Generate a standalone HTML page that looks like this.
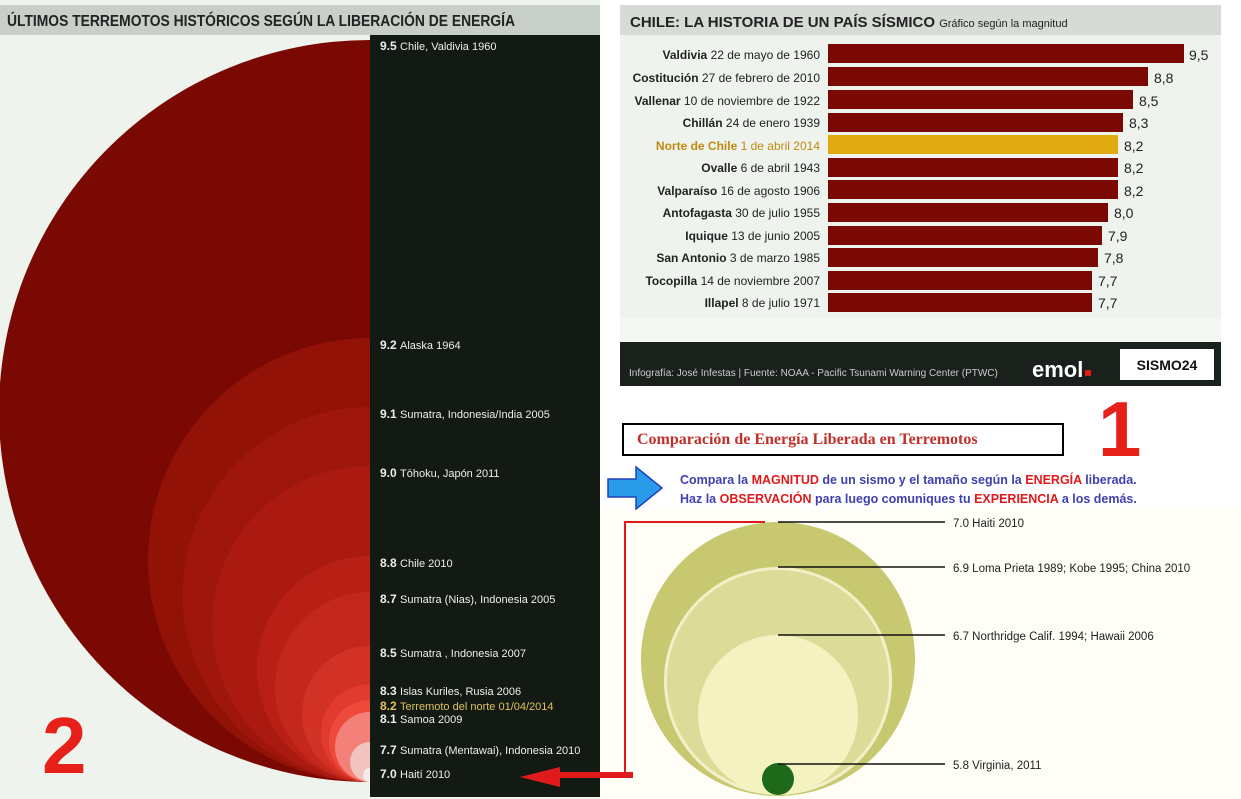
<!DOCTYPE html>
<html><head><meta charset="utf-8"><style>
body{margin:0;width:1241px;height:799px;background:#fff;overflow:hidden;font-family:"Liberation Sans",Arial,sans-serif;position:relative}
.a{position:absolute}
</style></head><body>
<svg class="a" style="left:0;top:0" width="1241" height="799">
<defs><clipPath id="lc"><rect x="0" y="35" width="370" height="764"/></clipPath></defs>
<rect x="0" y="0" width="600" height="799" fill="#eef3ee"/>
<rect x="0" y="5" width="600" height="30" fill="#c8cec8"/>
<text x="7" y="26" font-size="16" font-weight="bold" fill="#222" textLength="508" lengthAdjust="spacingAndGlyphs">ÚLTIMOS TERREMOTOS HISTÓRICOS SEGÚN LA LIBERACIÓN DE ENERGÍA</text>
<g clip-path="url(#lc)">
<circle cx="370" cy="411" r="371" fill="#7a0903"/>
<circle cx="370" cy="560" r="222" fill="#921208"/>
<circle cx="370" cy="594.5" r="187.5" fill="#9e160c"/>
<circle cx="370" cy="624" r="158" fill="#aa1a10"/>
<circle cx="370" cy="669" r="113" fill="#b82016"/>
<circle cx="370" cy="687" r="95" fill="#c4281d"/>
<circle cx="370" cy="714" r="68" fill="#d23226"/>
<circle cx="370" cy="733" r="49" fill="#e03b2e"/>
<circle cx="370" cy="741" r="41" fill="#ee4a3c"/>
<circle cx="370" cy="747" r="35" fill="#f4807a"/>
<circle cx="370" cy="762" r="20" fill="#f2c4c0"/>
<circle cx="370" cy="775" r="7" fill="#f6eaea"/>
</g>
<rect x="370" y="35" width="230" height="762" fill="#121a13"/>
<g font-size="12" fill="#eee">
<text x="380" y="50"><tspan font-weight="bold">9.5</tspan> <tspan font-size="11">Chile, Valdivia 1960</tspan></text>
<text x="380" y="349"><tspan font-weight="bold">9.2</tspan> <tspan font-size="11">Alaska 1964</tspan></text>
<text x="380" y="418"><tspan font-weight="bold">9.1</tspan> <tspan font-size="11">Sumatra, Indonesia/India 2005</tspan></text>
<text x="380" y="477"><tspan font-weight="bold">9.0</tspan> <tspan font-size="11">Tōhoku, Japón 2011</tspan></text>
<text x="380" y="567"><tspan font-weight="bold">8.8</tspan> <tspan font-size="11">Chile 2010</tspan></text>
<text x="380" y="603"><tspan font-weight="bold">8.7</tspan> <tspan font-size="11">Sumatra (Nias), Indonesia 2005</tspan></text>
<text x="380" y="657"><tspan font-weight="bold">8.5</tspan> <tspan font-size="11">Sumatra , Indonesia 2007</tspan></text>
<text x="380" y="695"><tspan font-weight="bold">8.3</tspan> <tspan font-size="11">Islas Kuriles, Rusia 2006</tspan></text>
<text x="380" y="710" fill="#e0c060"><tspan font-weight="bold">8.2</tspan> <tspan font-size="11">Terremoto del norte 01/04/2014</tspan></text>
<text x="380" y="723"><tspan font-weight="bold">8.1</tspan> <tspan font-size="11">Samoa 2009</tspan></text>
<text x="380" y="754"><tspan font-weight="bold">7.7</tspan> <tspan font-size="11">Sumatra (Mentawai), Indonesia 2010</tspan></text>
<text x="380" y="778"><tspan font-weight="bold">7.0</tspan> <tspan font-size="11">Haití 2010</tspan></text>
</g>
<text x="42" y="773" font-size="80" font-weight="bold" fill="#e8201a">2</text>

<rect x="620" y="5" width="601" height="337" fill="#eef3ee"/>
<rect x="620" y="5" width="601" height="30" fill="#d6dbd6"/>
<text x="630" y="27" font-size="15" font-weight="bold" fill="#222">CHILE: LA HISTORIA DE UN PAÍS SÍSMICO <tspan font-size="11" font-weight="normal">Gráfico según la magnitud</tspan></text>
<g font-size="12" fill="#222">
<g fill="#7a0903">
<rect x="828" y="44" width="356" height="19"/><rect x="828" y="67" width="320" height="19"/><rect x="828" y="90" width="305" height="19"/><rect x="828" y="113" width="295" height="19"/>
<rect x="828" y="135" width="290" height="19" fill="#e0aa10"/><rect x="828" y="158" width="290" height="19"/><rect x="828" y="180" width="290" height="19"/><rect x="828" y="203" width="280" height="19"/>
<rect x="828" y="226" width="274" height="19"/><rect x="828" y="248" width="270" height="19"/><rect x="828" y="271" width="264" height="19"/><rect x="828" y="293" width="264" height="19"/>
</g>
<g text-anchor="end">
<text x="820" y="59"><tspan font-weight="bold">Valdivia</tspan> 22 de mayo de 1960</text>
<text x="820" y="82"><tspan font-weight="bold">Costitución</tspan> 27 de febrero de 2010</text>
<text x="820" y="105"><tspan font-weight="bold">Vallenar</tspan> 10 de noviembre de 1922</text>
<text x="820" y="127"><tspan font-weight="bold">Chillán</tspan> 24 de enero 1939</text>
<text x="820" y="150" fill="#c08a10"><tspan font-weight="bold">Norte de Chile</tspan> 1 de abril 2014</text>
<text x="820" y="172"><tspan font-weight="bold">Ovalle</tspan> 6 de abril 1943</text>
<text x="820" y="195"><tspan font-weight="bold">Valparaíso</tspan> 16 de agosto 1906</text>
<text x="820" y="217"><tspan font-weight="bold">Antofagasta</tspan> 30 de julio 1955</text>
<text x="820" y="240"><tspan font-weight="bold">Iquique</tspan> 13 de junio 2005</text>
<text x="820" y="262"><tspan font-weight="bold">San Antonio</tspan> 3 de marzo 1985</text>
<text x="820" y="285"><tspan font-weight="bold">Tocopilla</tspan> 14 de noviembre 2007</text>
<text x="820" y="307"><tspan font-weight="bold">Illapel</tspan> 8 de julio 1971</text>
</g>
<g font-size="14">
<text x="1189" y="60">9,5</text><text x="1154" y="83">8,8</text><text x="1139" y="106">8,5</text><text x="1129" y="128">8,3</text><text x="1124" y="151">8,2</text><text x="1124" y="173">8,2</text><text x="1124" y="196">8,2</text><text x="1114" y="218">8,0</text><text x="1108" y="241">7,9</text><text x="1104" y="263">7,8</text><text x="1098" y="286">7,7</text><text x="1098" y="308">7,7</text>
</g>
</g>
<rect x="620" y="318" width="601" height="24" fill="#fff" opacity=".35"/>
<rect x="620" y="342" width="601" height="44" fill="#1a201b"/>
<text x="629" y="376" font-size="10" fill="#ccc">Infografía: José Infestas   |  Fuente: NOAA - Pacific Tsunami Warning Center (PTWC)</text>
<text x="1032" y="377" font-size="22" font-weight="bold" fill="#fff">emol</text><rect x="1085" y="370" width="6" height="6" fill="#e01a1a"/>
<rect x="1120" y="349" width="94" height="31" fill="#fff"/>
<text x="1167" y="370" font-size="14" font-weight="bold" text-anchor="middle" fill="#111">SISMO24</text>

<text x="1098" y="456" font-size="78" font-weight="bold" fill="#e8201a">1</text>
<rect x="623" y="424" width="440" height="31" fill="#fff" stroke="#000" stroke-width="2"/>
<text x="637" y="444" font-family="Liberation Serif,serif" font-size="16" font-weight="bold" fill="#c0302a">Comparación de Energía Liberada en Terremotos</text>
<polygon points="608,479 636,479 636,467 662,488 636,509 636,497 608,497" fill="#2a9be8" stroke="#2040c0" stroke-width="1.5"/>
<g font-size="12.5" font-weight="bold" fill="#4040b0">
<text x="680" y="484">Compara la <tspan fill="#e01a1a">MAGNITUD</tspan> de un sismo y el tamaño según la <tspan fill="#e01a1a">ENERGÍA</tspan> liberada.</text>
<text x="680" y="503">Haz la <tspan fill="#e01a1a">OBSERVACIÓN</tspan> para luego comuniques tu <tspan fill="#e01a1a">EXPERIENCIA</tspan> a los demás.</text>
</g>
<rect x="600" y="510" width="641" height="289" fill="#fefef6"/>
<circle cx="778" cy="659" r="137" fill="#c8c870"/>
<circle cx="778" cy="681" r="114" fill="#f2f0c8"/>
<circle cx="778" cy="681" r="111" fill="#dcdc98"/>
<circle cx="778" cy="715" r="80" fill="#f4f2c0"/>
<circle cx="778" cy="779" r="16" fill="#1e6a1a"/>
<g stroke="#111" stroke-width="1.5"><line x1="778" y1="522" x2="945" y2="522"/><line x1="778" y1="567" x2="945" y2="567"/><line x1="778" y1="635" x2="945" y2="635"/><line x1="778" y1="764" x2="945" y2="764"/></g>
<g font-size="11.5" fill="#222">
<text x="953" y="527">7.0 Haiti 2010</text>
<text x="953" y="572">6.9 Loma Prieta 1989; Kobe 1995; China 2010</text>
<text x="953" y="640">6.7 Northridge Calif. 1994; Hawaii 2006</text>
<text x="953" y="769">5.8 Virginia, 2011</text>
</g>
<polyline points="765,522 625,522 625,775 600,775" fill="none" stroke="#e01a1a" stroke-width="2"/>
<rect x="548" y="772" width="85" height="6" fill="#e01a1a"/>
<polygon points="520,777 560,767 560,787" fill="#e01a1a"/>
</svg>
</body></html>
